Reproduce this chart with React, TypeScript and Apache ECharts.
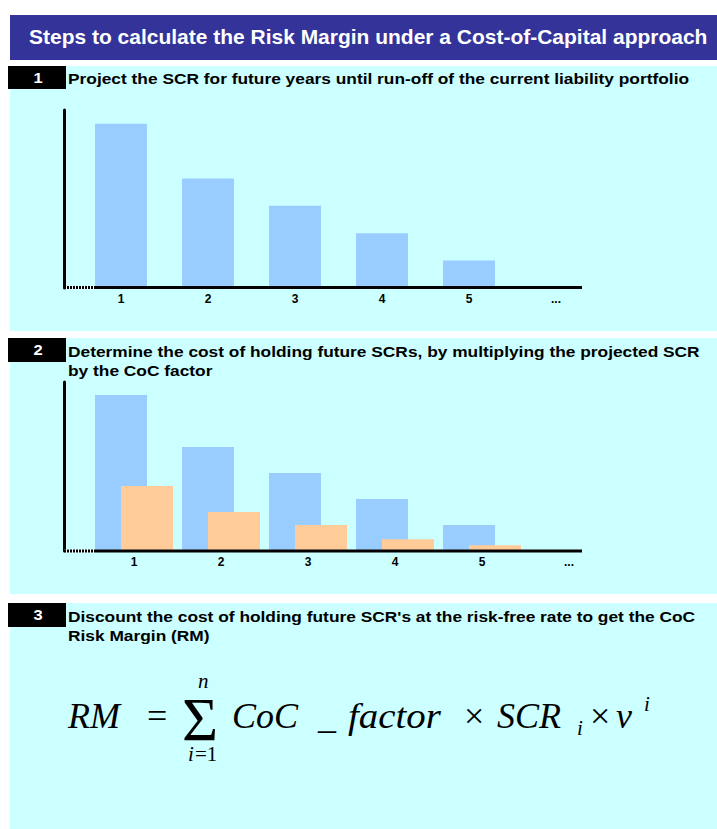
import React, { useEffect, useRef } from "react";
import * as echarts from "echarts";

// ---- data ----
const categories = ["1", "2", "3", "4", "5", "..."];
const projectedScr = [6, 4, 3, 2, 1, null];
const step2Scr = [6, 4, 3, 2, 1, null];
const costOfHoldingScr = [2.5, 1.5, 1, 0.45, 0.22, null];

const headerTitle = "Steps to calculate the Risk Margin under a Cost-of-Capital approach";
const stepNumbers = ["1", "2", "3"];
const step1Lines = ["Project the SCR for future years until run-off of the current liability portfolio"];
const step2Lines = [
  "Determine the cost of holding future SCRs, by multiplying the projected SCR",
  "by the CoC factor",
];
const step3Lines = [
  "Discount the cost of holding future SCR's at the risk-free rate to get the CoC",
  "Risk Margin (RM)",
];

const SANS = "'Liberation Sans', Arial, sans-serif";
const SERIF = "'Liberation Serif', 'Times New Roman', serif";
const HEADER = "#333399";
const CYAN = "#CCFFFF";
const BLUE = "#99CCFF";
const ORANGE = "#FFCC99";

function txt(text: string, x: number, y: number, opts: any = {}) {
  return {
    type: "text",
    z: 100,
    silent: true,
    x,
    y,
    scaleX: opts.scaleX || 1,
    style: {
      text,
      x: 0,
      y: 0,
      fill: opts.fill || "#000",
      fontSize: opts.fontSize || 14,
      fontWeight: opts.fontWeight || "normal",
      fontStyle: opts.fontStyle || "normal",
      fontFamily: opts.fontFamily || SANS,
      align: opts.align || "left",
      verticalAlign: "middle",
    },
  };
}

function rect(x: number, y: number, w: number, h: number, fill: string, z = 0) {
  return { type: "rect", z, silent: true, shape: { x, y, width: w, height: h }, style: { fill } };
}

function axisBase(y: number) {
  return [
    { type: "line", z: 50, silent: true, shape: { x1: 64, y1: y, x2: 95, y2: y }, style: { stroke: "#fff", lineWidth: 3 } },
    { type: "line", z: 51, silent: true, shape: { x1: 64, y1: y, x2: 95, y2: y }, style: { stroke: "#000", lineWidth: 3, lineDash: [2, 1] } },
    { type: "line", z: 51, silent: true, shape: { x1: 95, y1: y, x2: 582, y2: y }, style: { stroke: "#000", lineWidth: 3 } },
  ];
}

export default function App() {
  const ref = useRef<HTMLDivElement>(null);
  useEffect(() => {
    if (!ref.current) return;
    const chart = echarts.init(ref.current, null, { renderer: "svg" });
    const boldLabel = { fontFamily: SANS, fontWeight: "bold", fontSize: 12, color: "#000", margin: 5 };
    const stepText = { fontWeight: "bold", fontSize: 15, scaleX: 1.156 };
    const numText = { fill: "#fff", fontWeight: "bold", fontSize: 15, align: "center", scaleX: 1.1 };
    const serifIt = { fontFamily: SERIF, fontStyle: "italic", fontSize: 36 };
    const serifRm = { fontFamily: SERIF, fontSize: 36 };
    const small = { fontFamily: SERIF, fontStyle: "italic", fontSize: 21 };
    const graphics: any[] = [
      rect(10, 15, 707, 45, HEADER),
      txt(headerTitle, 29, 37, { fill: "#fff", fontSize: 19.5, fontWeight: "bold", scaleX: 1.076 }),
      rect(10, 66, 707, 265, CYAN),
      rect(10, 338, 707, 256, CYAN),
      rect(10, 603, 707, 226, CYAN),
      rect(8, 66, 58, 23, "#000", 5),
      rect(8, 338, 58, 24, "#000", 5),
      rect(8, 603, 58, 24, "#000", 5),
      txt(stepNumbers[0], 38, 78, numText),
      txt(stepNumbers[1], 38, 350, numText),
      txt(stepNumbers[2], 38, 615, numText),
      txt(step1Lines[0], 68, 78, stepText),
      txt(step2Lines[0], 68, 351, stepText),
      txt(step2Lines[1], 68, 370, stepText),
      txt(step3Lines[0], 68, 616, stepText),
      txt(step3Lines[1], 68, 635, stepText),
      ...axisBase(287.5),
      ...axisBase(551),
      // formula
      txt("RM", 68, 716, serifIt),
      txt("=", 147, 716, serifRm),
      txt("\u03a3", 182, 719, { fontFamily: SERIF, fontSize: 62 }),
      txt("n", 198, 681, small),
      txt("i", 188, 754, small),
      txt("=1", 195, 754, { fontFamily: SERIF, fontSize: 21 }),
      txt("CoC", 232, 716, serifIt),
      txt("_", 318, 716, serifIt),
      txt("factor", 348, 716, { ...serifIt, scaleX: 1.08 }),
      txt("\u00d7", 464, 716, serifRm),
      txt("SCR", 497, 716, serifIt),
      txt("i", 577, 728, small),
      txt("\u00d7", 590, 716, serifRm),
      txt("v", 616, 716, serifIt),
      txt("i", 644, 704, small),
    ];
    chart.setOption({
      animation: false,
      backgroundColor: "#fff",
      grid: [
        { left: 77.5, top: 110, width: 522, height: 178 },
        { left: 90.5, top: 382, width: 522, height: 169 },
      ],
      xAxis: [0, 1].map((i) => ({
        gridIndex: i,
        type: "category",
        data: categories,
        axisLine: { show: false },
        axisTick: { show: false },
        axisLabel: boldLabel,
      })),
      yAxis: [
        { gridIndex: 0, offset: 13, min: 0, max: 6.5 },
        { gridIndex: 1, offset: 26, min: 0, max: 6.5 },
      ].map((a) => ({
        ...a,
        type: "value",
        axisLine: { show: true, lineStyle: { color: "#000", width: 3 } },
        axisTick: { show: false },
        axisLabel: { show: false },
        splitLine: { show: false },
      })),
      series: [
        { type: "bar", xAxisIndex: 0, yAxisIndex: 0, data: projectedScr, barWidth: 52, itemStyle: { color: BLUE } },
        { type: "bar", xAxisIndex: 1, yAxisIndex: 1, data: step2Scr, barWidth: 52, barGap: "-50%", itemStyle: { color: BLUE } },
        { type: "bar", xAxisIndex: 1, yAxisIndex: 1, data: costOfHoldingScr, barWidth: 52, barGap: "-50%", itemStyle: { color: ORANGE } },
      ],
      graphic: graphics,
    });
    return () => chart.dispose();
  }, []);
  return <div ref={ref} style={{ position: "absolute", left: 0, top: 0, width: 717, height: 829 }} />;
}
